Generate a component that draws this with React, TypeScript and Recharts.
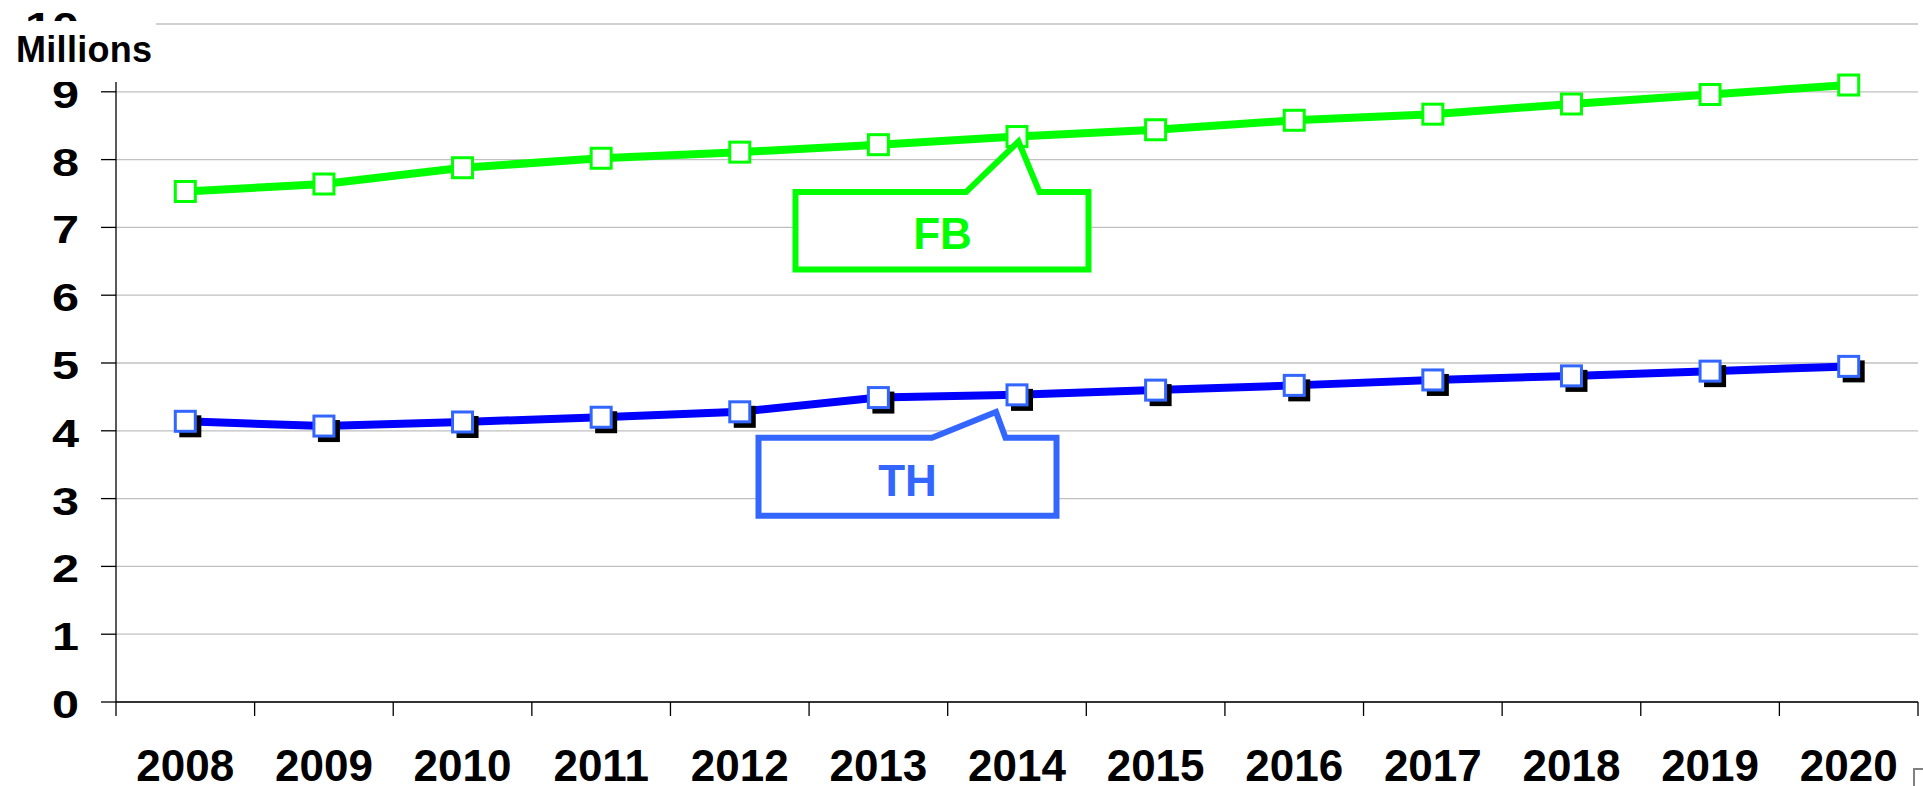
import React from 'react';
import {
  LineChart,
  Line,
  XAxis,
  YAxis,
  CartesianGrid,
  ReferenceDot
} from 'recharts';

// values, in millions
const years = ['2008', '2009', '2010', '2011', '2012', '2013', '2014', '2015', '2016', '2017', '2018', '2019', '2020'];
const fbValues = [7.53, 7.64, 7.88, 8.02, 8.11, 8.22, 8.34, 8.44, 8.58, 8.67, 8.82, 8.96, 9.1];
const thValues = [4.14, 4.07, 4.13, 4.2, 4.28, 4.49, 4.53, 4.6, 4.67, 4.75, 4.81, 4.88, 4.95];
const yTicks = [0, 1, 2, 3, 4, 5, 6, 7, 8, 9, 10];
const calloutYear = 6; // both callouts point at 2014

const FONT = '"Liberation Sans", Arial, sans-serif';
const GREEN = '#00FF00';
const BLUE_LINE = '#0000FF';
const BLUE_BOX = '#3366FF';

const data = years.map((year, i) => ({
  pos: i + 0.5,
  year,
  fb: fbValues[i],
  th: thValues[i]
}));

// boundary ticks at integers, labels at band centres
const xTicks = [...years.flatMap((_, i) => [i, i + 0.5]), years.length];

const XTick = ({ x, y, payload }: any) => {
  const v = payload.value;
  if (Number.isInteger(v)) {
    return <line x1={x} x2={x} y1={y} y2={y + 14} stroke="#000" strokeWidth={1.3} />;
  }
  return (
    <text x={x} y={y + 79} textAnchor="middle" fontFamily={FONT} fontWeight="bold" fontSize={44} fill="#000">
      {years[v - 0.5]}
    </text>
  );
};

const YTick = ({ x, y, payload }: any) => (
  <text
    transform={`translate(${x},${y}) scale(1.28,1)`}
    textAnchor="end"
    dy="0.42em"
    fontFamily={FONT}
    fontWeight="bold"
    fontSize={38}
    fill="#000"
  >
    {payload.value}
  </text>
);

const FbDot = ({ cx, cy, index }: any) => (
  <rect key={`fb-${index}`} x={cx - 10} y={cy - 10} width={20} height={20} fill="#fff" stroke={GREEN} strokeWidth={3} />
);

const ThDot = ({ cx, cy, index }: any) => (
  <g key={`th-${index}`}>
    <rect x={cx - 6} y={cy - 6} width={22} height={22} fill="#000" />
    <rect x={cx - 10} y={cy - 10} width={20} height={20} fill="#fff" stroke={BLUE_BOX} strokeWidth={3} />
  </g>
);

// callout box with a pointer, drawn relative to the data point it points at
const makeCallout = (
  label: string,
  color: string,
  box: { l: number; r: number; t: number; b: number; pl: number; pr: number },
  tip: { dx: number; dy: number },
  text: { dx: number; dy: number }
) => ({ cx, cy }: any) => {
  const p = [
    [cx + box.l, cy + box.t],
    [cx + box.pl, cy + box.t],
    [cx + tip.dx, cy + tip.dy],
    [cx + box.pr, cy + box.t],
    [cx + box.r, cy + box.t],
    [cx + box.r, cy + box.b],
    [cx + box.l, cy + box.b]
  ];
  const d = 'M' + p.map(q => q.join(',')).join(' L') + ' Z';
  return (
    <g>
      <path d={d} fill="#fff" stroke={color} strokeWidth={6} strokeLinejoin="miter" />
      <text
        x={cx + text.dx}
        y={cy + text.dy}
        textAnchor="middle"
        dy="0.36em"
        fontFamily={FONT}
        fontWeight="bold"
        fontSize={44}
        fill={color}
      >
        {label}
      </text>
    </g>
  );
};

const FbCallout = makeCallout(
  'FB',
  GREEN,
  { l: -221.5, r: 71.5, t: 55.5, b: 133, pl: -51, pr: 22.5 },
  { dx: 1.5, dy: 5 },
  { dx: -74.5, dy: 96.5 }
);

const ThCallout = makeCallout(
  'TH',
  BLUE_BOX,
  { l: -258.5, r: 39.5, t: 43, b: 121, pl: -85, pr: -11.5 },
  { dx: -21, dy: 17 },
  { dx: -109.5, dy: 85 }
);

export default function App() {
  return (
    <div style={{ position: 'absolute', left: 0, top: 0, width: 1923, height: 786, overflow: 'hidden', background: '#fff' }}>
      <LineChart width={1923} height={786} data={data} margin={{ top: 24, right: 5, left: 0, bottom: 0 }}>
        <CartesianGrid vertical={false} stroke="#c0c0c0" strokeWidth={1.3} />
        <XAxis
          dataKey="pos"
          type="number"
          domain={[0, years.length]}
          ticks={xTicks}
          interval={0}
          height={84}
          tickSize={0}
          tickMargin={0}
          tickLine={false}
          tick={<XTick />}
          axisLine={{ stroke: '#000', strokeWidth: 1.3 }}
        />
        <YAxis
          type="number"
          domain={[0, 10]}
          ticks={yTicks}
          interval={0}
          width={116}
          tickSize={15}
          tickMargin={22}
          tick={<YTick />}
          tickLine={{ stroke: '#000', strokeWidth: 1.3 }}
          axisLine={{ stroke: '#000', strokeWidth: 1.3 }}
        />
        <Line
          type="linear"
          dataKey="th"
          stroke={BLUE_LINE}
          strokeWidth={8}
          dot={ThDot}
          activeDot={false}
          isAnimationActive={false}
        />
        <Line
          type="linear"
          dataKey="fb"
          stroke={GREEN}
          strokeWidth={8}
          dot={FbDot}
          activeDot={false}
          isAnimationActive={false}
        />
        <ReferenceDot x={calloutYear + 0.5} y={fbValues[calloutYear]} shape={FbCallout} />
        <ReferenceDot x={calloutYear + 0.5} y={thValues[calloutYear]} shape={ThCallout} />
      </LineChart>
      <svg width={156} height={61} style={{ position: 'absolute', left: 0, top: 21 }}>
        <rect x={0} y={0} width={156} height={61} fill="#fff" />
        <text x={16} y={41} fontFamily={FONT} fontWeight="bold" fontSize={36} letterSpacing={0.3} fill="#000">
          Millions
        </text>
      </svg>
      <div
        style={{
          position: 'absolute',
          left: 1913,
          top: 768,
          width: 20,
          height: 30,
          borderLeft: '2px solid #808080',
          borderTop: '2px solid #808080'
        }}
      />
    </div>
  );
}
